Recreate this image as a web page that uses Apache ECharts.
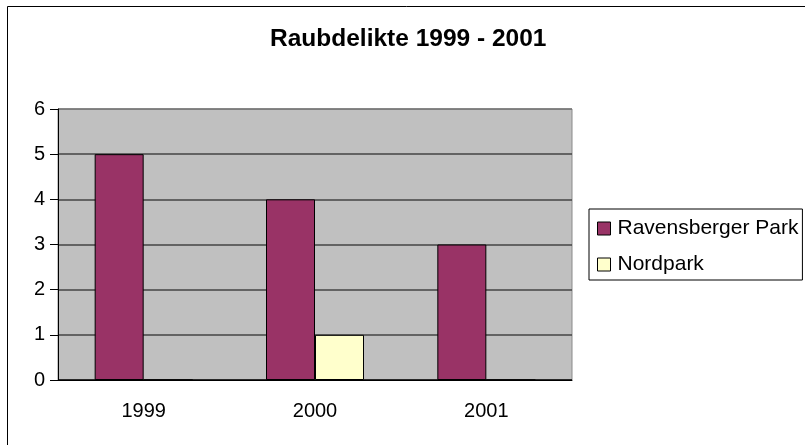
<!DOCTYPE html>
<html>
<head>
<meta charset="utf-8">
<script src="https://cdn.jsdelivr.net/npm/echarts@6/dist/echarts.min.js"></script>
<style>
  html, body { margin: 0; padding: 0; background: #fff; }
  #chart { width: 805px; height: 445px; }
</style>
</head>
<body>
<div id="chart"></div>
<script>
const years = ["1999", "2000", "2001"];
const ravensberger = [5, 4, 3];
const nordpark = [0, 1, 0];
const yTicks = [0, 1, 2, 3, 4, 5, 6];

const chart = echarts.init(document.getElementById("chart"));
const font = "'Liberation Sans', Arial, sans-serif";

chart.setOption({
  animation: false,
  backgroundColor: "#fff",
  textStyle: { fontFamily: font },
  title: {
    text: "Raubdelikte 1999 - 2001",
    left: 265,
    top: 22,
    textStyle: { fontFamily: font, fontSize: 24.5, fontWeight: "bold", color: "#000" },
  },
  graphic: [
    {
      type: "rect",
      shape: { x: 7.5, y: 6.5, width: 900, height: 900 },
      style: { fill: "none", stroke: "#000", lineWidth: 1 },
      silent: true,
    },
  ],
  legend: {
    orient: "vertical",
    left: 589,
    top: 209,
    padding: [9, 4, 5, 8],
    itemWidth: 13,
    itemHeight: 13,
    itemGap: 15,
    borderColor: "#000",
    borderWidth: 1,
    icon: "rect",
    itemStyle: { borderColor: "#000", borderWidth: 1 },
    textStyle: { fontFamily: font, fontSize: 21, color: "#000", padding: [0, 0, 0, 2] },
    data: ["Ravensberger Park", "Nordpark"],
  },
  grid: {
    left: 58,
    top: 109,
    right: 233,
    bottom: 65,
    show: true,
    backgroundColor: "#C0C0C0",
    borderColor: "#8a8a8a",
    borderWidth: 1,
  },
  xAxis: {
    type: "category",
    data: years,
    axisLine: { lineStyle: { color: "#000", width: 1 } },
    axisTick: { length: 7, lineStyle: { color: "#000" } },
    axisLabel: { fontFamily: font, fontSize: 20, color: "#000", margin: 21 },
  },
  yAxis: {
    type: "value",
    min: yTicks[0],
    max: yTicks[yTicks.length - 1],
    interval: 1,
    axisLine: { show: true, lineStyle: { color: "#000", width: 1 } },
    axisTick: { show: true, length: 8, lineStyle: { color: "#000" } },
    axisLabel: { fontFamily: font, fontSize: 20, color: "#000", margin: 13 },
    splitLine: {
      lineStyle: {
        color: ["#000", "#444", "#444", "#444", "#444", "#444", "#707070"],
        width: 1.5,
      },
    },
  },
  series: [
    {
      name: "Ravensberger Park",
      type: "bar",
      data: ravensberger,
      barWidth: 49,
      barGap: "0%",
      itemStyle: { color: "#993366", borderColor: "#000", borderWidth: 1 },
    },
    {
      name: "Nordpark",
      type: "bar",
      data: nordpark,
      barWidth: 49,
      itemStyle: { color: "#FFFFCC", borderColor: "#000", borderWidth: 1 },
    },
  ],
});
</script>
</body>
</html>
